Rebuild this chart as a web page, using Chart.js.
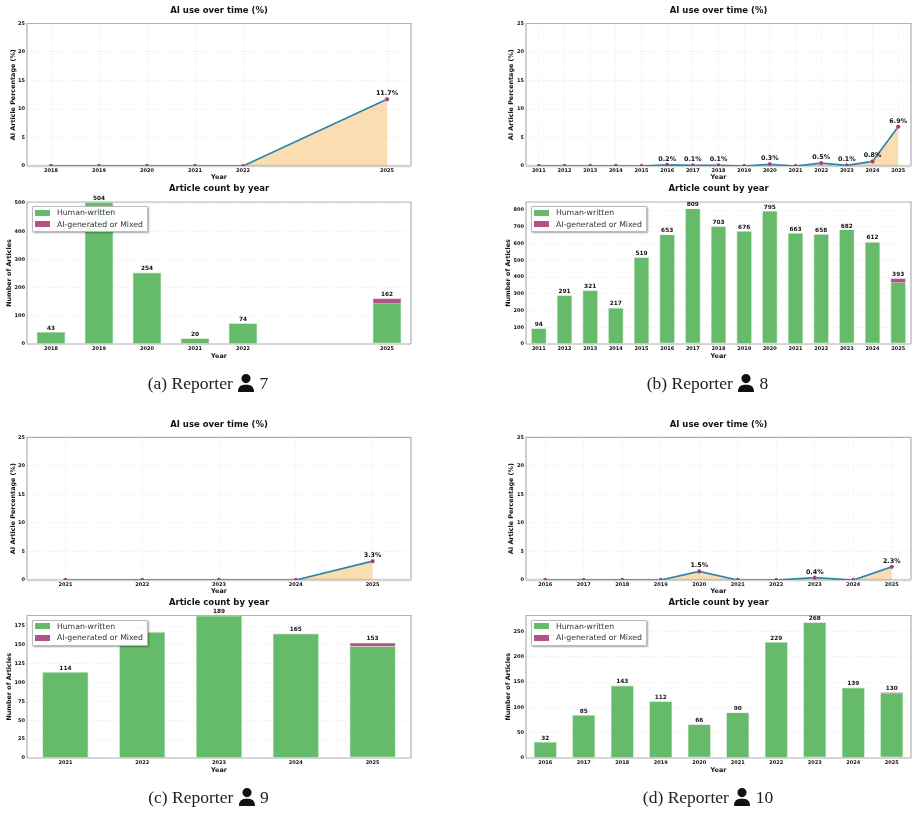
<!DOCTYPE html>
<html lang="en">
<head>
  <meta charset="UTF-8" />
  <title>Reporter AI use</title>
  <script src="https://cdn.jsdelivr.net/npm/chart.js"></script>
  <style>
    html, body { margin: 0; padding: 0; background: #fff; overflow: hidden; }
    body { width: 917px; height: 813px; position: relative; }
    canvas { position: absolute; }
    .legend { position: absolute; box-sizing: border-box; width: 116px; height: 26px; background: rgba(255,255,255,.96);
      border: 1px solid #bbb; border-radius: 1px; box-shadow: 1px 1px 2px rgba(0,0,0,.35);
      font: 7.75px "DejaVu Sans", sans-serif; color: #333; }
    .legend div { position: absolute; left: 2px; height: 11.7px; line-height: 11.7px; white-space: nowrap; }
    .legend i { display: inline-block; width: 15.6px; height: 6px; margin-right: 6.6px; vertical-align: -0.5px; }
    .caption { position: absolute; height: 22px; text-align: center; white-space: nowrap;
      font: 17.5px/22px "Liberation Serif", serif; color: #222; }
    .caption svg { width: 16px; height: 18.3px; vertical-align: -3px; margin: 0 1px; }
  </style>
</head>
<body>
  <script>
    const repYearsA = [2018, 2019, 2020, 2021, 2022, 2025];
    const repHumanA = [43, 504, 254, 20, 74, 143];
    const repAiA = [0, 0, 0, 0, 0, 19];
    const repPctA = [0, 0, 0, 0, 0, 11.7];

    const repYearsB = [2011, 2012, 2013, 2014, 2015, 2016, 2017, 2018, 2019, 2020, 2021, 2022, 2023, 2024, 2025];
    const repHumanB = [94, 291, 321, 217, 519, 652, 808, 702, 676, 793, 663, 655, 681, 607, 366];
    const repAiB = [0, 0, 0, 0, 0, 1, 1, 1, 0, 2, 0, 3, 1, 5, 27];
    const repPctB = [0, 0, 0, 0, 0, 0.2, 0.1, 0.1, 0, 0.3, 0, 0.5, 0.1, 0.8, 6.9];

    const repYearsC = [2021, 2022, 2023, 2024, 2025];
    const repHumanC = [114, 167, 189, 165, 148];
    const repAiC = [0, 0, 0, 0, 5];
    const repPctC = [0, 0, 0, 0, 3.3];

    const repYearsD = [2016, 2017, 2018, 2019, 2020, 2021, 2022, 2023, 2024, 2025];
    const repHumanD = [32, 85, 143, 112, 65, 90, 229, 267, 139, 127];
    const repAiD = [0, 0, 0, 0, 1, 0, 0, 1, 0, 3];
    const repPctD = [0, 0, 0, 0, 1.5, 0, 0, 0.4, 0, 2.3];

    const legendLabels = ["Human-written", "AI-generated or Mixed"];
    const GREEN = "#66BB6A", PLUM = "#B05488", LINE = "#2E86AB", DOT = "#A23B72";
    const FONT = '"DejaVu Sans", sans-serif';
    const USER_ICON = '<svg viewBox="0 0 448 512"><path fill="#111" d="M224 256A128 128 0 1 0 224 0a128 128 0 1 0 0 256zm-45.7 48C79.8 304 0 383.8 0 482.3C0 498.7 13.3 512 29.7 512H418.3c16.4 0 29.7-13.3 29.7-29.7C448 383.8 368.2 304 269.7 304H178.3z"/></svg>';

    function addCanvas(left, top, width, height) {
      const c = document.createElement("canvas");
      c.width = width; c.height = height;
      c.style.left = left + "px"; c.style.top = top + "px";
      document.body.appendChild(c);
      return c;
    }

    // title plugin options that put the text and the plot top where they belong
    function titleOpts(text, canvasTop, titleY, plotTop) {
      const size = 8.5, lh = size * 1.2;
      const padTop = titleY - canvasTop - lh / 2;
      return {
        display: true, text, color: "#111", fullSize: false,
        font: { family: FONT, size, weight: "bold" },
        padding: { top: padTop, bottom: plotTop - canvasTop - padTop - lh }
      };
    }

    function xAxis(years, height, tickPad, showGrid) {
      return {
        type: "linear", offset: false, stacked: true,
        min: years[0] - 0.5, max: years[years.length - 1] + 0.5,
        afterBuildTicks: s => { s.ticks = years.map(v => ({ value: v })); },
        afterFit: s => { s.height = height; },
        grid: { display: showGrid, offset: false, drawTicks: false, color: "rgba(0,0,0,.055)" },
        border: { display: false, dash: [1.5, 1.5] },
        ticks: { padding: tickPad, maxRotation: 0, autoSkip: false, includeBounds: false, color: "#111",
          font: { family: FONT, size: 5, weight: "bold" }, callback: v => String(v) },
        title: { display: true, text: "Year", color: "#111", padding: 0, font: { family: FONT, size: 6.4, weight: "bold" } }
      };
    }

    function yAxis(label, max, step, width, titleOffset) {
      return {
        min: 0, max, stacked: true,
        afterFit: s => { s.width = width; },
        afterBuildTicks: s => {
          s.ticks = [];
          for (let v = 0; v <= max; v += step) s.ticks.push({ value: v });
        },
        grid: { drawTicks: false, color: "rgba(0,0,0,.055)" },
        border: { display: false, dash: [1.5, 1.5] },
        ticks: { padding: 2, color: "#111", font: { family: FONT, size: 5, weight: "bold" }, callback: v => String(v) },
        title: { display: true, text: label, color: "#111", padding: { top: titleOffset - 3.8, bottom: 0 },
          font: { family: FONT, size: 6.4, weight: "bold" } }
      };
    }

    // axes frame; the line charts have a pale band along y = 0 instead of a dark spine
    function framePlugin(bottomColor, bottomWidth) {
      return {
        id: "frame",
        beforeDatasetsDraw(chart) {
          const a = chart.chartArea, ctx = chart.ctx;
          ctx.save();
          ctx.strokeStyle = "#b0b0b0"; ctx.lineWidth = 1.2;
          ctx.beginPath();
          ctx.moveTo(a.left, a.bottom); ctx.lineTo(a.left, a.top); ctx.lineTo(a.right, a.top); ctx.lineTo(a.right, a.bottom);
          ctx.stroke();
          ctx.strokeStyle = bottomColor; ctx.lineWidth = bottomWidth;
          ctx.beginPath(); ctx.moveTo(a.left, a.bottom); ctx.lineTo(a.right, a.bottom); ctx.stroke();
          ctx.restore();
        }
      };
    }

    function lineChart(p) {
      const canvas = addCanvas(p.left, p.top, p.width, 181);
      new Chart(canvas, {
        type: "line",
        data: { datasets: [{
          data: p.years.map((y, i) => ({ x: y, y: p.pct[i] })),
          borderColor: LINE, borderWidth: 1.7, tension: 0, clip: 0,
          fill: "origin", backgroundColor: "rgba(241,143,1,.3)",
          pointBackgroundColor: DOT, pointBorderColor: "#fff", pointBorderWidth: 0.3, pointRadius: 2.2
        }] },
        options: {
          responsive: false, animation: false,
          layout: { autoPadding: false, padding: { right: p.width - (p.right - p.left), bottom: 0 } },
          plugins: { legend: { display: false }, tooltip: { enabled: false },
            title: titleOpts("AI use over time (%)", p.top, p.titleY, p.plotTop) },
          scales: {
            x: xAxis(p.years, 15, 1.5, true),
            y: yAxis("AI Article Percentage (%)", 25, 5, p.plotLeft - p.left, p.yTitleX - p.left)
          }
        },
        plugins: [framePlugin("#d4d4d4", 2.4), {
          id: "pctLabels",
          afterDatasetsDraw(chart) {
            const ctx = chart.ctx, sx = chart.scales.x, sy = chart.scales.y;
            ctx.save();
            ctx.font = "bold 6.4px " + FONT; ctx.fillStyle = "#111";
            ctx.textAlign = "center"; ctx.textBaseline = "middle";
            p.years.forEach((y, i) => {
              if (p.pct[i] > 0) ctx.fillText(p.pct[i].toFixed(1) + "%", sx.getPixelForValue(y), sy.getPixelForValue(p.pct[i]) - 5.7);
            });
            ctx.restore();
          }
        }]
      });
    }

    function barChart(p) {
      const canvas = addCanvas(p.left, p.top, p.width, 180);
      const common = { barPercentage: 0.6, categoryPercentage: 1, borderWidth: 0.7 };
      new Chart(canvas, {
        type: "bar",
        data: { datasets: [
          // pale edge round each bar, left off where the two segments meet
          { ...common, label: legendLabels[0], backgroundColor: GREEN, borderColor: "#b8dfba",
            borderSkipped: c => (p.ai[c.dataIndex] > 0 ? "end" : "start"),
            data: p.years.map((y, i) => ({ x: y, y: p.human[i] })) },
          { ...common, label: legendLabels[1], backgroundColor: PLUM, borderColor: "#dcb3ca", borderSkipped: "start",
            data: p.years.map((y, i) => ({ x: y, y: p.ai[i] })) }
        ] },
        options: {
          responsive: false, animation: false,
          layout: { autoPadding: false, padding: { right: p.width - (p.right - p.left), bottom: 0 } },
          plugins: { legend: { display: false }, tooltip: { enabled: false },
            title: titleOpts("Article count by year", p.top, p.titleY, p.plotTop) },
          scales: {
            x: xAxis(p.years, 16, 2, false),
            y: yAxis("Number of Articles", p.yMax, p.yStep, p.plotLeft - p.left, p.yTitleX - p.left)
          }
        },
        plugins: [framePlugin("#b0b0b0", 1.2), {
          id: "totals",
          afterDatasetsDraw(chart) {
            const ctx = chart.ctx, sx = chart.scales.x, sy = chart.scales.y;
            ctx.save();
            ctx.font = "bold 5.8px " + FONT; ctx.fillStyle = "#111";
            ctx.textAlign = "center"; ctx.textBaseline = "middle";
            p.years.forEach((y, i) => {
              const total = p.human[i] + p.ai[i];
              ctx.fillText(String(total), sx.getPixelForValue(y), sy.getPixelForValue(total) - 3.8);
            });
            ctx.restore();
          }
        }]
      });

      // legend box sits over the bars, upper left of the plot
      const box = document.createElement("div");
      box.className = "legend";
      box.style.left = (p.plotLeft + 4.7) + "px";
      box.style.top = (p.plotTop + 4) + "px";
      legendLabels.forEach((text, i) => {
        const row = document.createElement("div");
        row.style.top = (0.2 + i * 11.4) + "px";
        row.innerHTML = '<i style="background:' + (i ? PLUM : GREEN) + '"></i>' + text;
        box.appendChild(row);
      });
      document.body.appendChild(box);
    }

    function caption(text, num, left, width, top) {
      const el = document.createElement("div");
      el.className = "caption";
      el.style.left = left + "px"; el.style.width = width + "px"; el.style.top = top + "px";
      el.innerHTML = text + " " + USER_ICON + " " + num;
      document.body.appendChild(el);
    }

    const colA = { left: 0, width: 420, plotLeft: 27, right: 411 };
    const colB = { left: 490, width: 427, plotLeft: 526, right: 911 };

    // first row
    lineChart({ ...colA, top: 0, titleY: 11, plotTop: 23.5, yTitleX: 13, years: repYearsA, pct: repPctA });
    barChart({ ...colA, top: 180, titleY: 189, plotTop: 202, yTitleX: 9, years: repYearsA, human: repHumanA, ai: repAiA, yMax: 504, yStep: 100 });
    lineChart({ ...colB, top: 0, titleY: 11, plotTop: 23.5, yTitleX: 511.7, years: repYearsB, pct: repPctB });
    barChart({ ...colB, top: 180, titleY: 189, plotTop: 202, yTitleX: 508, years: repYearsB, human: repHumanB, ai: repAiB, yMax: 849, yStep: 100 });
    caption("(a) Reporter", 7, 0, 416, 372);
    caption("(b) Reporter", 8, 498, 419, 372);

    // second row
    lineChart({ ...colA, top: 414, titleY: 425, plotTop: 437.3, yTitleX: 13, years: repYearsC, pct: repPctC });
    barChart({ ...colA, top: 594, titleY: 603, plotTop: 615.5, yTitleX: 9, years: repYearsC, human: repHumanC, ai: repAiC, yMax: 189, yStep: 25 });
    lineChart({ ...colB, top: 414, titleY: 425, plotTop: 437.3, yTitleX: 511.7, years: repYearsD, pct: repPctD });
    barChart({ ...colB, top: 594, titleY: 603, plotTop: 615.5, yTitleX: 508, years: repYearsD, human: repHumanD, ai: repAiD, yMax: 281.4, yStep: 50 });
    caption("(c) Reporter", 9, 0, 417, 786);
    caption("(d) Reporter", 10, 498, 420, 786);
  </script>
</body>
</html>
